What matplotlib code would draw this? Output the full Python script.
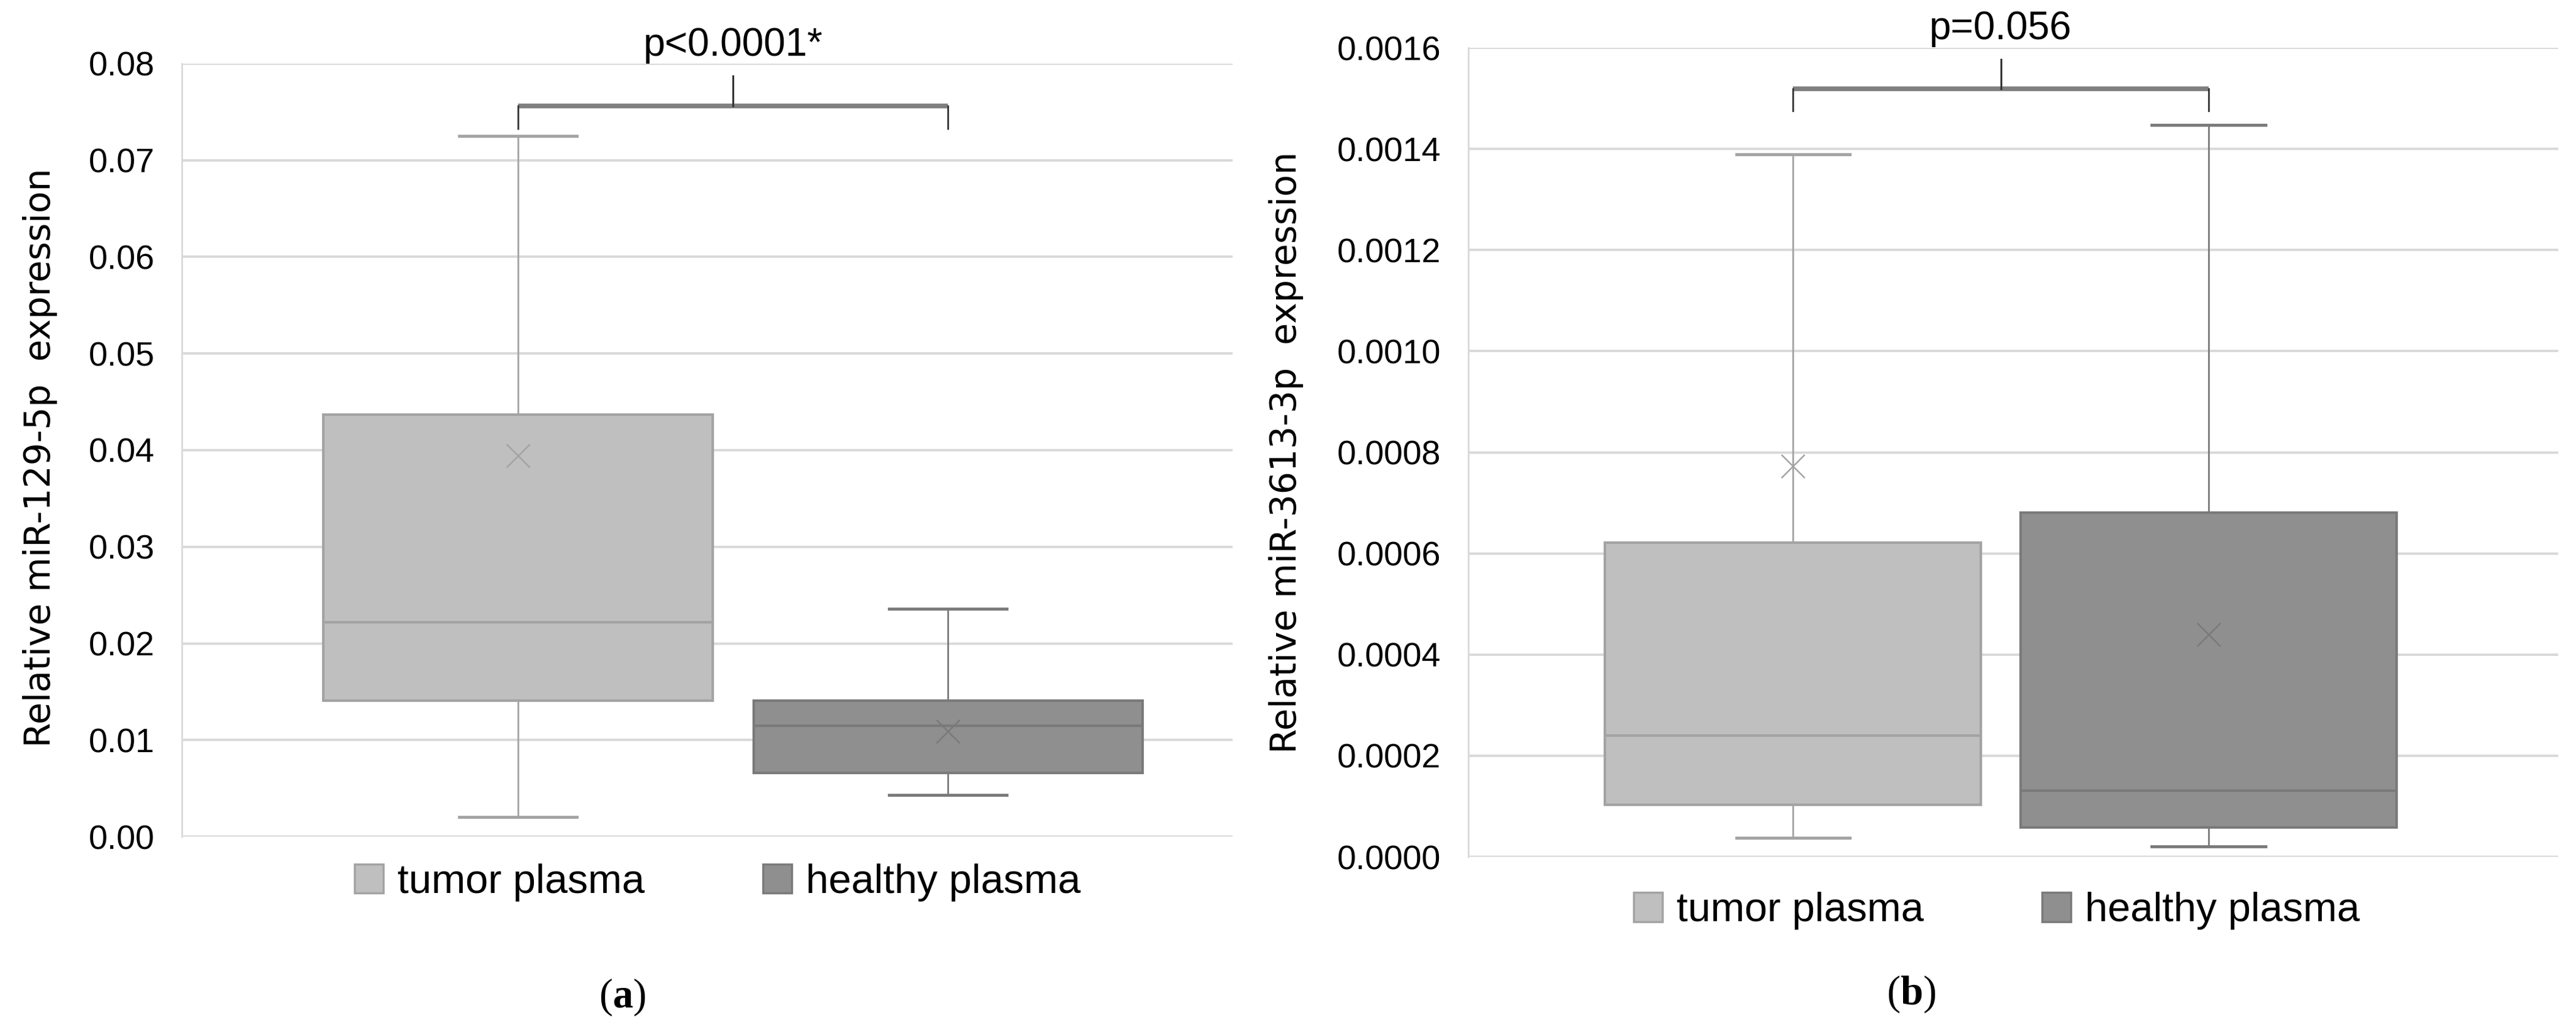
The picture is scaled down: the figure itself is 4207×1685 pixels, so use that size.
import numpy as np
import matplotlib
matplotlib.use("Agg")
import matplotlib.pyplot as plt
from matplotlib.patches import Patch

plt.rcParams['font.family'] = ['Liberation Sans', 'DejaVu Sans']
plt.rcParams['mathtext.fontset'] = 'custom'
plt.rcParams['mathtext.bf'] = 'Liberation Serif:bold'
plt.rcParams['mathtext.rm'] = 'Liberation Serif'

# data
groups = ["tumor plasma", "healthy plasma"]

# (a) miR-129-5p
a_whislo = [0.0020, 0.0043]
a_q1 = [0.0141, 0.0066]
a_med = [0.0222, 0.0115]
a_q3 = [0.0437, 0.0141]
a_whishi = [0.0725, 0.0236]
a_mean = [0.0394, 0.0109]
a_p = "p<0.0001*"

# (b) miR-3613-3p
b_whislo = [0.000038, 0.000021]
b_q1 = [0.000103, 0.000058]
b_med = [0.000240, 0.000131]
b_q3 = [0.000621, 0.000681]
b_whishi = [0.001389, 0.001448]
b_mean = [0.000773, 0.000440]
b_p = "p=0.056"

fills = ["#bfbfbf", "#8f8f8f"]
edges = ["#a3a3a3", "#7a7a7a"]
grid_c = "#d9d9d9"


def make_stats(lo, q1, med, q3, hi, mean):
    return [dict(whislo=lo[i], q1=q1[i], med=med[i], q3=q3[i], whishi=hi[i],
                 mean=mean[i], fliers=[]) for i in range(len(lo))]


def draw_panel(ax, stats, ymax, ystep, fmt, xlim):
    ax.set_ylim(0, ymax)
    ax.set_xlim(*xlim)
    ax.set_yticks(np.arange(0, ymax + ystep / 2, ystep))
    ax.yaxis.set_major_formatter(matplotlib.ticker.FormatStrFormatter(fmt))
    ax.grid(axis='y', color=grid_c, lw=2.8)
    ax.set_axisbelow(True)
    for s in ['top', 'right', 'bottom']:
        ax.spines[s].set_visible(False)
    ax.spines['left'].set_color(grid_c)
    ax.spines['left'].set_linewidth(2.0)
    ax.tick_params(axis='y', length=0, pad=32, labelsize=40)
    ax.set_xticks([])
    for i, st in enumerate(stats):
        ax.bxp([st], positions=[i + 1], widths=0.905, capwidths=0.273,
               patch_artist=True, showmeans=True, showfliers=False,
               boxprops=dict(facecolor=fills[i], edgecolor=edges[i], lw=3.0),
               medianprops=dict(color=edges[i], lw=3.0),
               whiskerprops=dict(color=edges[i], lw=2.0),
               capprops=dict(color=edges[i], lw=3.5),
               meanprops=dict(marker='x', markersize=28, markeredgewidth=1.8,
                              markeredgecolor=edges[i]),
               manage_ticks=False)


def bracket(ax, y_top, y_end, y_mid, y_txt, text):
    ax.plot([1, 2], [y_top, y_top], color="#7f7f7f", lw=5.5, clip_on=False,
            solid_capstyle='butt')
    for x in [1, 2]:
        ax.plot([x, x], [y_top, y_end], color="#333333", lw=2.0, clip_on=False)
    ax.plot([1.5, 1.5], [y_top, y_mid], color="#333333", lw=2.2, clip_on=False)
    ax.text(1.5, y_txt, text, ha='center', va='baseline', fontsize=46,
            clip_on=False)


fig = plt.figure(figsize=(42.07, 16.85), dpi=100)
ax1 = fig.add_axes([0.0706, 0.1893, 0.4079, 0.749])
ax2 = fig.add_axes([0.5700, 0.1697, 0.4231, 0.784])

draw_panel(ax1, make_stats(a_whislo, a_q1, a_med, a_q3, a_whishi, a_mean),
           0.08, 0.01, '%.2f', (0.218, 2.662))
draw_panel(ax2, make_stats(b_whislo, b_q1, b_med, b_q3, b_whishi, b_mean),
           0.0016, 0.0002, '%.4f', (0.219, 2.841))

bracket(ax1, 0.0756, 0.0733, 0.0787, 0.0808, a_p)
bracket(ax2, 0.001519, 0.001475, 0.001577, 0.001617, b_p)

ax1.text(-0.135, 0.49, "Relative miR-129-5p  expression", rotation=90,
         ha='center', va='center', transform=ax1.transAxes, fontsize=42,
         family='DejaVu Sans')
ax2.text(-0.167, 0.50, "Relative miR-3613-3p  expression", rotation=90,
         ha='center', va='center', transform=ax2.transAxes, fontsize=42,
         family='DejaVu Sans')

for ax, xc, yc in [(ax1, 0.51, -0.0594), (ax2, 0.485, -0.0666)]:
    handles = [Patch(facecolor=fills[i], edgecolor=edges[i], lw=2.5,
                     label=groups[i]) for i in range(2)]
    ax.legend(handles=handles, loc='center', bbox_to_anchor=(xc, yc), ncol=2,
              frameon=False, fontsize=48, handlelength=0.7, handleheight=0.72,
              handletextpad=0.35, columnspacing=2.9)

fig.text(0.2417, 0.0338, r"($\mathbf{a}$)", ha='center', va='center',
         fontsize=48, family='Liberation Serif')
fig.text(0.742, 0.0368, r"($\mathbf{b}$)", ha='center', va='center',
         fontsize=48, family='Liberation Serif')

fig.savefig("out.png", dpi=100)
